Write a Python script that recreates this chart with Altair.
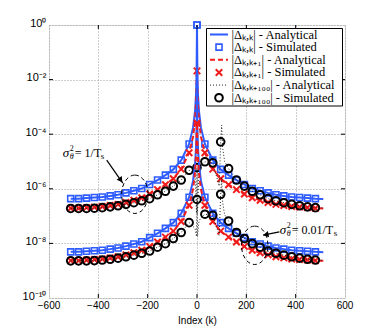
import altair as alt
import pandas as pd

# ---------------- data (log10 of |Delta|) ----------------
K = [-512, -480, -448, -416, -384, -352, -320, -288, -256, -224, -192, -160, -128, -96, -64, -32,
     0, 32, 64, 96, 128, 160, 192, 224, 256, 288, 320, 352, 384, 416, 448, 480]

# sigma^2 = 1/Ts (upper group) - simulated markers
blue_hi = [-6.36, -6.36, -6.34, -6.32, -6.30, -6.26, -6.22, -6.15, -6.07, -5.99, -5.84, -5.68, -5.50, -5.29, -4.95, -4.36,
           0.0, -4.36, -4.95, -5.29, -5.50, -5.68, -5.84, -5.99, -6.07, -6.15, -6.22, -6.26, -6.30, -6.32, -6.34, -6.36]
red_hi = [-6.71, -6.71, -6.69, -6.67, -6.65, -6.61, -6.57, -6.50, -6.42, -6.33, -6.19, -6.03, -5.85, -5.63, -5.28, -4.68,
          -1.68, -4.68, -5.28, -5.63, -5.85, -6.03, -6.19, -6.33, -6.42, -6.50, -6.57, -6.61, -6.65, -6.67, -6.69, -6.71]
black_hi = [-6.72, -6.72, -6.72, -6.71, -6.69, -6.66, -6.62, -6.57, -6.51, -6.44, -6.36, -6.22, -6.09, -5.90, -5.68, -5.32,
            -5.22, -5.01, -5.05, -4.28, -5.26, -5.68, -5.90, -6.09, -6.22, -6.36, -6.44, -6.51, -6.57, -6.62, -6.66, -6.69]

# sigma^2 = 0.01/Ts (lower group) - simulated markers
blue_lo = [-8.31, -8.31, -8.29, -8.27, -8.25, -8.21, -8.17, -8.10, -8.02, -7.94, -7.79, -7.63, -7.45, -7.24, -6.90, -6.31,
           0.0, -6.31, -6.90, -7.24, -7.45, -7.63, -7.79, -7.94, -8.02, -8.10, -8.17, -8.21, -8.25, -8.27, -8.29, -8.31]
red_lo = [-8.63, -8.63, -8.61, -8.59, -8.57, -8.53, -8.49, -8.42, -8.34, -8.25, -8.11, -7.95, -7.77, -7.55, -7.20, -6.60,
          -3.60, -6.60, -7.20, -7.55, -7.77, -7.95, -8.11, -8.25, -8.34, -8.42, -8.49, -8.53, -8.57, -8.59, -8.61, -8.63]
black_lo = [-8.64, -8.64, -8.64, -8.63, -8.61, -8.58, -8.54, -8.49, -8.43, -8.36, -8.28, -8.14, -8.01, -7.82, -7.60, -7.24,
            -6.39, -6.93, -6.97, -6.20, -7.18, -7.60, -7.82, -8.01, -8.14, -8.28, -8.36, -8.43, -8.49, -8.54, -8.58, -8.61]

# analytical curves (denser near the peaks)
KA = [-512, -480, -448, -416, -384, -352, -320, -288, -256, -224, -192, -160, -128, -96, -64, -32,
      -16, -8, -4, -2, -1, 0, 1, 2, 4, 8, 16,
      32, 64, 96, 128, 160, 192, 224, 256, 288, 320, 352, 384, 416, 448, 480, 512]
blue_hi_a = [-6.36, -6.36, -6.34, -6.32, -6.30, -6.26, -6.22, -6.15, -6.07, -5.99, -5.84, -5.68, -5.50, -5.29, -4.95, -4.36,
             -3.76, -3.15, -2.55, -1.95, -1.35, 0.0, -1.35, -1.95, -2.55, -3.15, -3.76,
             -4.36, -4.95, -5.29, -5.50, -5.68, -5.84, -5.99, -6.07, -6.15, -6.22, -6.26, -6.30, -6.32, -6.34, -6.36, -6.37]
blue_lo_a = [-8.31, -8.31, -8.29, -8.27, -8.25, -8.21, -8.17, -8.10, -8.02, -7.94, -7.79, -7.63, -7.45, -7.24, -6.90, -6.31,
             -5.71, -5.10, -4.50, -3.90, -3.30, 0.0, -3.30, -3.90, -4.50, -5.10, -5.71,
             -6.31, -6.90, -7.24, -7.45, -7.63, -7.79, -7.94, -8.02, -8.10, -8.17, -8.21, -8.25, -8.27, -8.29, -8.31, -8.32]
red_hi_a = [-6.71, -6.71, -6.69, -6.67, -6.65, -6.61, -6.57, -6.50, -6.42, -6.33, -6.19, -6.03, -5.85, -5.63, -5.28, -4.68,
            -4.10, -3.50, -2.90, -2.40, -1.75, -1.68, -2.20, -2.50, -2.95, -3.50, -4.10,
            -4.68, -5.28, -5.63, -5.85, -6.03, -6.19, -6.33, -6.42, -6.50, -6.57, -6.61, -6.65, -6.67, -6.69, -6.71, -6.72]
red_lo_a = [-8.63, -8.63, -8.61, -8.59, -8.57, -8.53, -8.49, -8.42, -8.34, -8.25, -8.11, -7.95, -7.77, -7.55, -7.20, -6.60,
            -6.02, -5.42, -4.82, -4.32, -3.67, -3.60, -4.12, -4.42, -4.87, -5.42, -6.02,
            -6.60, -7.20, -7.55, -7.77, -7.95, -8.11, -8.25, -8.34, -8.42, -8.49, -8.53, -8.57, -8.59, -8.61, -8.63, -8.64]

KB = [-512, -480, -448, -416, -384, -352, -320, -288, -256, -224, -192, -160, -128, -96, -64, -32,
      -8, -2, 0, 2, 8, 16, 32, 64, 90, 96, 100, 104, 112,
      128, 160, 192, 224, 256, 288, 320, 352, 384, 416, 448, 480, 512]
black_hi_a = [-6.72, -6.72, -6.72, -6.71, -6.69, -6.66, -6.62, -6.57, -6.51, -6.44, -6.36, -6.22, -6.09, -5.90, -5.68, -5.32,
              -5.45, -6.90, -5.22, -6.90, -5.30, -5.15, -5.01, -5.05, -5.90, -4.28, -3.67, -4.50, -5.00,
              -5.26, -5.68, -5.90, -6.09, -6.22, -6.36, -6.44, -6.51, -6.57, -6.62, -6.66, -6.69, -6.70]
black_lo_a = [-8.64, -8.64, -8.64, -8.63, -8.61, -8.58, -8.54, -8.49, -8.43, -8.36, -8.28, -8.14, -8.01, -7.82, -7.60, -7.24,
              -7.45, -7.75, -6.39, -7.75, -7.20, -7.05, -6.93, -6.97, -7.70, -6.20, -5.60, -6.50, -6.95,
              -7.18, -7.60, -7.82, -8.01, -8.14, -8.28, -8.36, -8.43, -8.49, -8.54, -8.58, -8.61, -8.62]

X_TICKS = [-600, -400, -200, 0, 200, 400, 600]
X_LABELS = ["−600", "−400", "−200", "0", "200", "400", "600"]
Y_TICKS = [1e-10, 1e-8, 1e-6, 1e-4, 1e-2, 1]

LEGEND_LABELS = ["|Δₖ,ₖ| - Analytical", "|Δₖ,ₖ| - Simulated",
                 "|Δₖ,ₖ₊₁| - Analytical", "|Δₖ,ₖ₊₁| - Simulated",
                 "|Δₖ,ₖ₊₁₀₀| - Analytical", "|Δₖ,ₖ₊₁₀₀| - Simulated"]

# annotations: anchor (k, log10 value)
ANN_TEXT = ["= 1/T", "= 0.01/T"]
ANN_K = [-544, 335]
ANN_E = [-4.84, -7.64]
ARROW_K = [-366, 334]
ARROW_E = [-4.95, -7.58]
ARROW_K2 = [-301, 268]
ARROW_E2 = [-5.79, -7.70]
HEAD_K = [-309, 279]
HEAD_E = [-5.68, -7.68]
ELL_K = [-252, 234]
ELL_E = [-6.20, -8.07]

# ---------------- styles ----------------
BLUE = "#2f5cff"
RED = "#f01c1c"
W, H = 296, 273
SERIF = "Liberation Serif"
SANS = "Liberation Sans"


def mk(ks, es, grp):
    return pd.DataFrame({"k": ks, "v": [10 ** e for e in es], "grp": grp})


xs = alt.Scale(domain=[-600, 600], nice=False, zero=False)
ys = alt.Scale(type="log", domain=[1e-10, 1], nice=False)
label_expr = ("datum.value >= 0.5 ? '10⁰' : datum.value >= 5e-3 ? '10⁻²' : "
              "datum.value >= 5e-5 ? '10⁻⁴' : datum.value >= 5e-7 ? '10⁻⁶' : "
              "datum.value >= 5e-9 ? '10⁻⁸' : '10⁻¹⁰'")
X = alt.X("k:Q", scale=xs, axis=alt.Axis(values=X_TICKS, title="Index (k)", grid=True,
                                         gridDash=[1, 2], gridColor="#9a9a9a", gridOpacity=1,
                                         ticks=False, domain=False, labels=False,
                                         titleFont=SANS, titleFontSize=10,
                                         titleFontWeight="normal", titleColor="black",
                                         titlePadding=17))
Y = alt.Y("v:Q", scale=ys, axis=alt.Axis(values=Y_TICKS, title=None, grid=True, gridDash=[1, 2],
                                         gridColor="#9a9a9a", gridOpacity=1, ticks=False, domain=False,
                                         labelFont=SANS, labelFontSize=11, labelColor="black",
                                         labelExpr=label_expr, labelPadding=3, labelFlush=False,
                                         labelOverlap=False, labelOffset=-2))

CROSS = "M-1,-1L1,1M-1,1L1,-1"
ELLIPSE = "M0,-1.45A1,1.45 0 1,1 0,1.45A1,1.45 0 1,1 0,-1.45Z"

layers = []
for g, (ba, bm, ra, rm, ka, km) in enumerate([
        (blue_hi_a, blue_hi, red_hi_a, red_hi, black_hi_a, black_hi),
        (blue_lo_a, blue_lo, red_lo_a, red_lo, black_lo_a, black_lo)]):
    layers.append(alt.Chart(mk(KA, ba, g)).mark_line(color=BLUE, strokeWidth=2).encode(x=X, y=Y))
    layers.append(alt.Chart(mk(K, bm, g)).mark_point(shape="square", size=36, filled=False, color=BLUE,
                                                     strokeWidth=1.6, opacity=1).encode(x=X, y=Y))
    layers.append(alt.Chart(mk(KA, ra, g)).mark_line(color=RED, strokeWidth=2, strokeDash=[5, 3]).encode(x=X, y=Y))
    layers.append(alt.Chart(mk(K, rm, g)).mark_point(shape=CROSS, size=42, filled=False, color=RED,
                                                     strokeWidth=2, opacity=1).encode(x=X, y=Y))
    layers.append(alt.Chart(mk(KB, ka, g)).mark_line(color="#222222", strokeWidth=1, strokeDash=[1, 2]).encode(x=X, y=Y))
    layers.append(alt.Chart(mk(K, km, g)).mark_point(shape="circle", size=58, filled=False, color="black",
                                                     strokeWidth=2, opacity=1).encode(x=X, y=Y))

# inward tick marks
xt = pd.DataFrame({"k": X_TICKS[1:-1]})
yt = pd.DataFrame({"v": Y_TICKS[1:-1]})
layers.append(alt.Chart(xt).mark_rule(color="black").encode(x=X, y=alt.value(H), y2=alt.value(H - 4)))
layers.append(alt.Chart(xt).mark_rule(color="black").encode(x=X, y=alt.value(0), y2=alt.value(4)))
layers.append(alt.Chart(yt).mark_rule(color="black").encode(y=Y, x=alt.value(0), x2=alt.value(4)))
layers.append(alt.Chart(yt).mark_rule(color="black").encode(y=Y, x=alt.value(W), x2=alt.value(W - 4)))

# x tick labels
xl = pd.DataFrame({"k": X_TICKS, "lab": X_LABELS})
layers.append(alt.Chart(xl).mark_text(font=SANS, fontSize=10, baseline="top", align="center",
                                      color="black").encode(x=X, y=alt.value(H + 3), text="lab:N"))

# annotations
ann = pd.DataFrame({"k": ANN_K, "v": [10 ** e for e in ANN_E], "t": ANN_TEXT,
                    "sdx": [38, 54]})
layers.append(alt.Chart(ann).mark_text(text="σ", font=SERIF, fontSize=13, fontStyle="italic", align="left",
                                       baseline="alphabetic").encode(x=X, y=Y))
layers.append(alt.Chart(ann).mark_text(text="2", font=SERIF, fontSize=8, align="left", dx=7, dy=-6,
                                       baseline="alphabetic").encode(x=X, y=Y))
layers.append(alt.Chart(ann).mark_text(text="θ", font=SERIF, fontSize=8, fontStyle="italic", align="left",
                                       dx=7, dy=2, baseline="alphabetic").encode(x=X, y=Y))
layers.append(alt.Chart(ann).mark_text(font=SERIF, fontSize=12, align="left", dx=12,
                                       baseline="alphabetic").encode(x=X, y=Y, text="t:N"))
for i in range(2):
    one = ann.iloc[[i]]
    layers.append(alt.Chart(one).mark_text(text="s", font=SERIF, fontSize=9, align="left",
                                           dx=int(ann["sdx"][i]), dy=2, baseline="alphabetic").encode(x=X, y=Y))

arr = pd.DataFrame({"k": ARROW_K, "v": [10 ** e for e in ARROW_E],
                    "k2": ARROW_K2, "v2": [10 ** e for e in ARROW_E2]})
layers.append(alt.Chart(arr).mark_rule(color="black", strokeWidth=1.2).encode(
    x=X, y=Y, x2="k2:Q", y2="v2:Q"))
heads = pd.DataFrame({"k": HEAD_K, "v": [10 ** e for e in HEAD_E], "a": [145, 258]})
layers.append(alt.Chart(heads).mark_point(shape="triangle-up", size=40, filled=True, color="black",
                                          opacity=1).encode(x=X, y=Y, angle=alt.Angle("a:Q", scale=None)))
ell = pd.DataFrame({"k": ELL_K, "v": [10 ** e for e in ELL_E]})
layers.append(alt.Chart(ell).mark_point(shape=ELLIPSE, size=700, filled=False, color="black",
                                        strokeWidth=1, strokeDash=[4, 3], opacity=1).encode(x=X, y=Y))

# legend (drawn by hand, pixel positions inside plot area)
dummy = pd.DataFrame({"a": [0]})
LX0, LX1, LY0, LY1 = 157.5, 293.5, 3.5, 81
layers.append(alt.Chart(dummy).mark_rect(fill="white", stroke="black", strokeWidth=1).encode(
    x=alt.value(LX0), x2=alt.value(LX1), y=alt.value(LY0), y2=alt.value(LY1)))
row_y = [9.5 + 12.65 * i for i in range(6)]
line_styles = {0: (BLUE, [1, 0], 2), 2: (RED, [5, 3], 2), 4: ("#222222", [1, 2], 1)}
for i, yy in enumerate(row_y):
    if i in line_styles:
        c, d, w = line_styles[i]
        layers.append(alt.Chart(dummy).mark_rule(color=c, strokeDash=d, strokeWidth=w).encode(
            x=alt.value(161), x2=alt.value(179), y=alt.value(yy)))
    else:
        if i == 1:
            m = alt.Chart(dummy).mark_point(shape="square", size=36, filled=False, color=BLUE, strokeWidth=1.6, opacity=1)
        elif i == 3:
            m = alt.Chart(dummy).mark_point(shape=CROSS, size=42, filled=False, color=RED, strokeWidth=2, opacity=1)
        else:
            m = alt.Chart(dummy).mark_point(shape="circle", size=58, filled=False, color="black", strokeWidth=2, opacity=1)
        layers.append(m.encode(x=alt.value(170), y=alt.value(yy)))
    layers.append(alt.Chart(dummy).mark_text(text=LEGEND_LABELS[i], font=SERIF, fontSize=12.5, align="left",
                                             baseline="middle", color="black").encode(
        x=alt.value(182.5), y=alt.value(yy)))

chart = alt.layer(*layers).properties(
    width=W, height=H,
    autosize=alt.AutoSizeParams(type="none"),
    padding={"left": 41, "top": 17, "right": 29, "bottom": 29},
).configure_view(stroke="black", strokeWidth=1).configure(background="white")

chart.save("out.html", embed_options={"renderer": "svg", "actions": False})
